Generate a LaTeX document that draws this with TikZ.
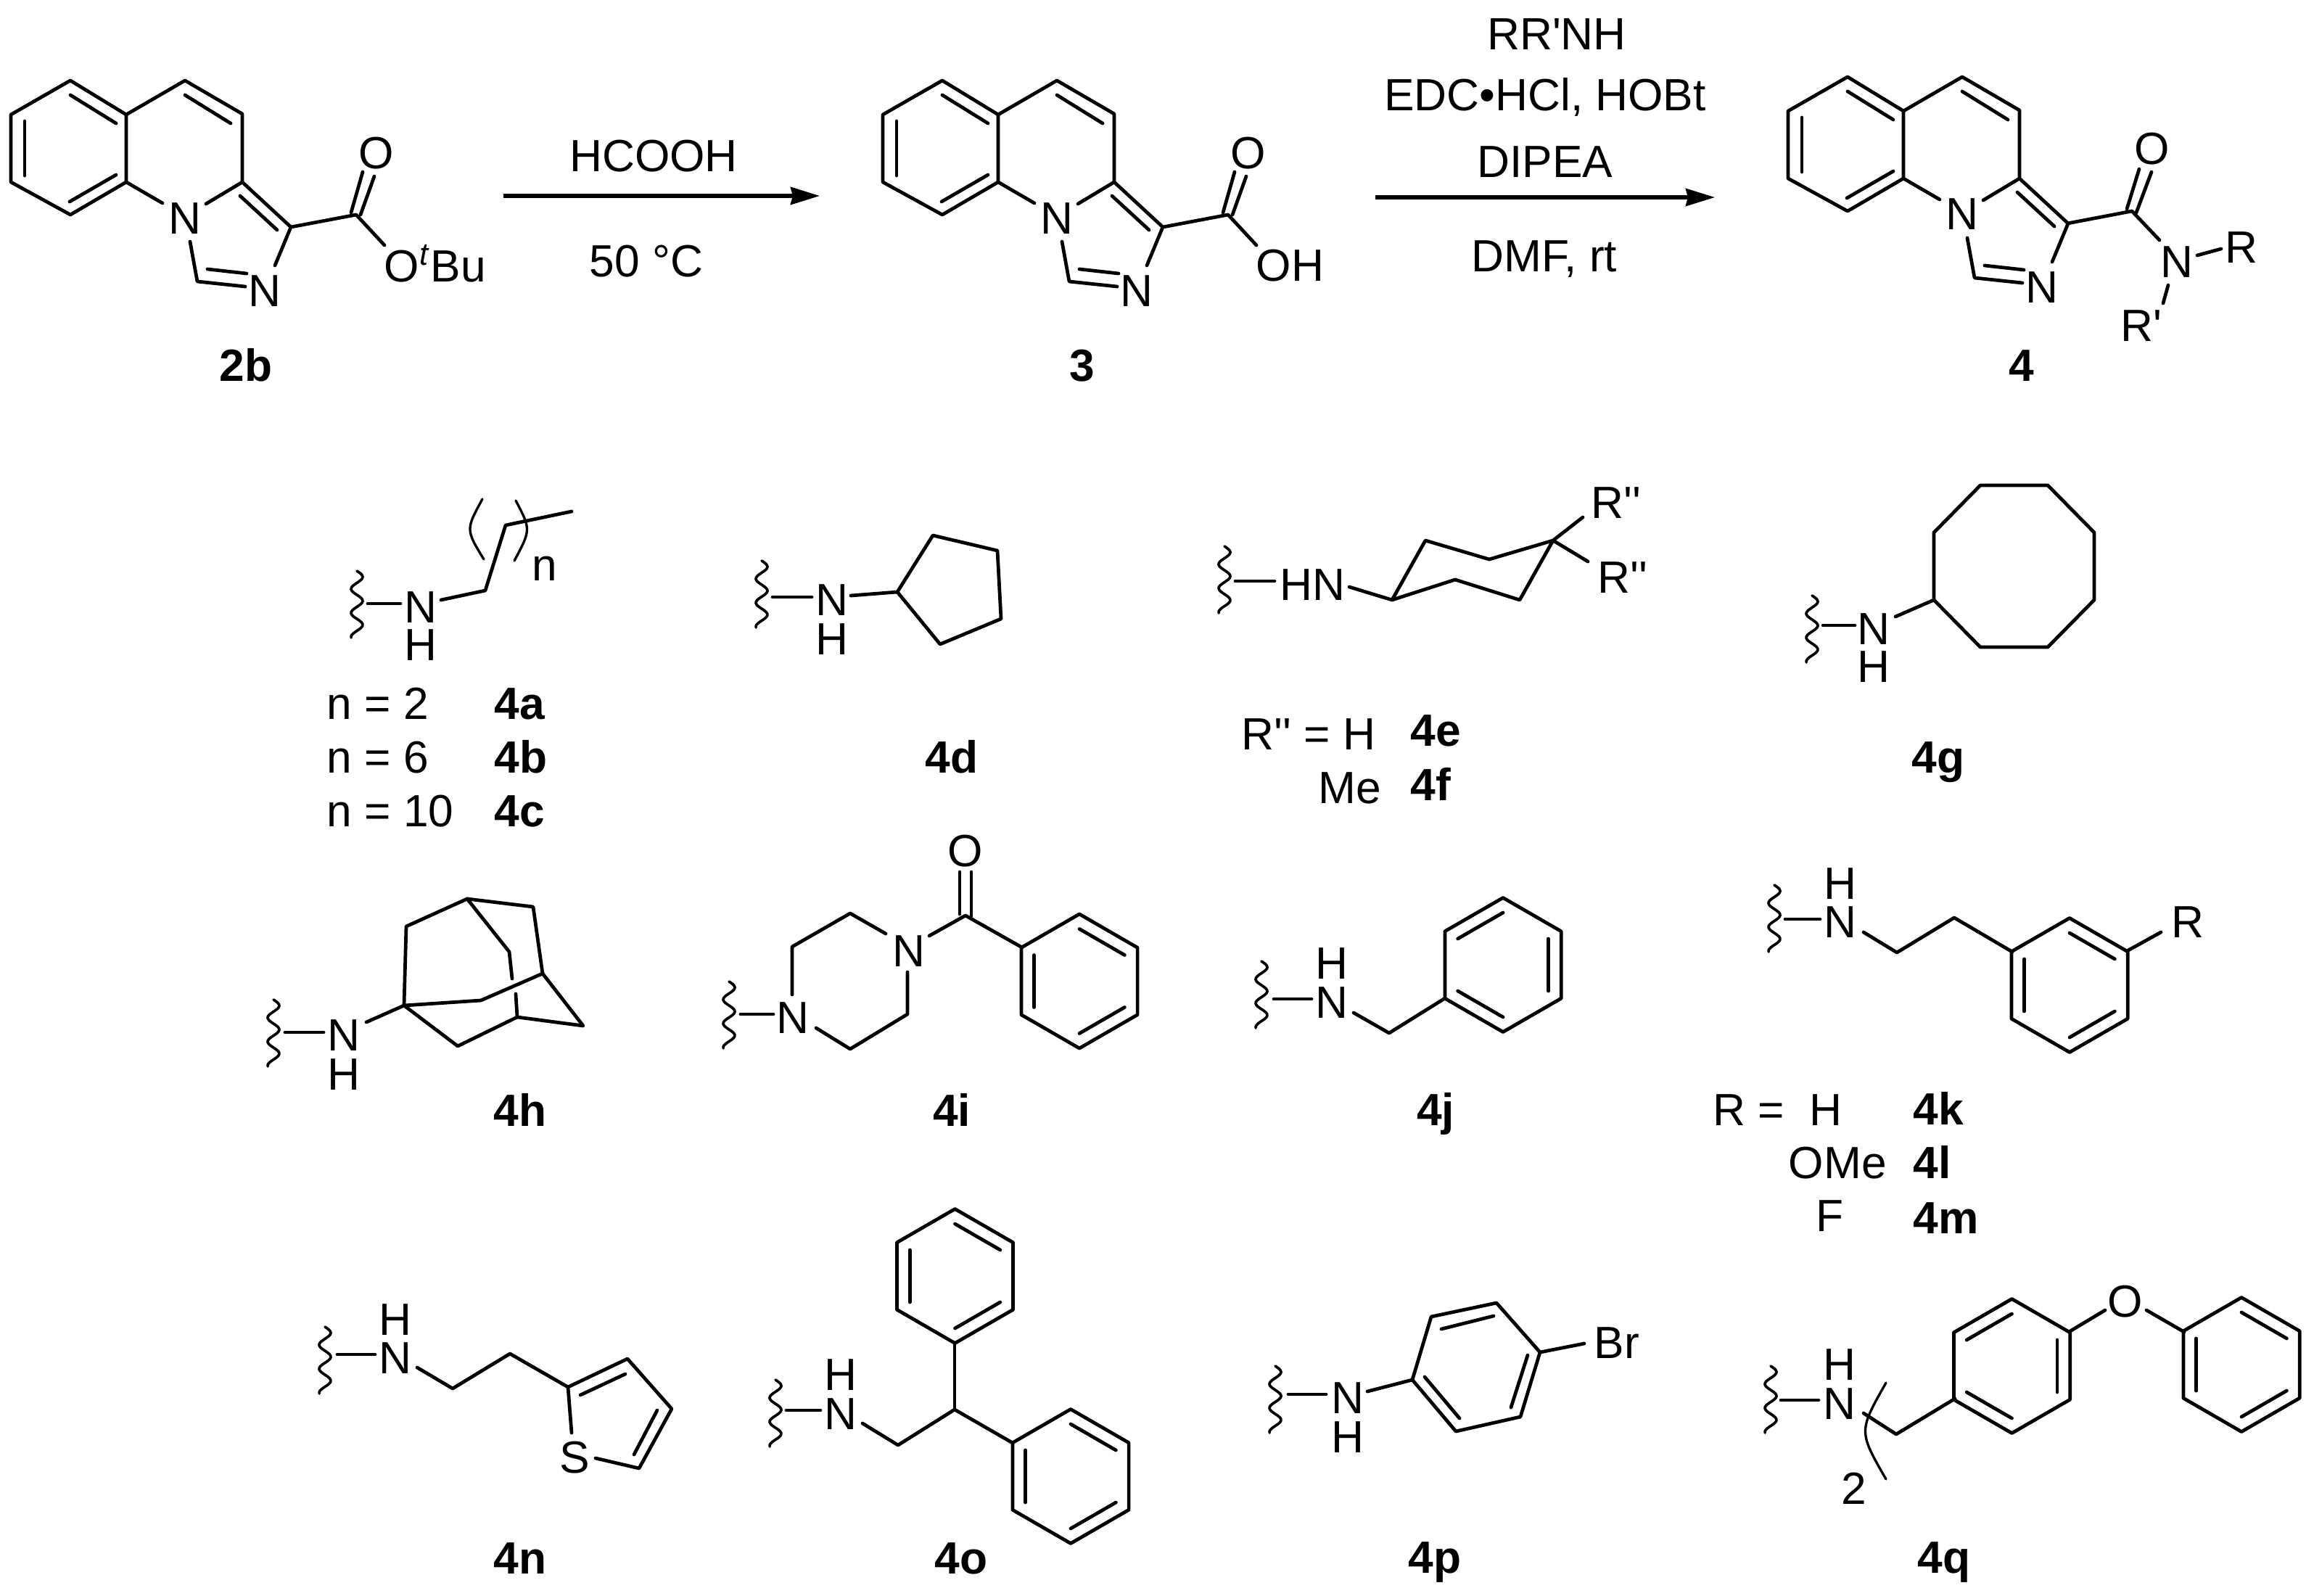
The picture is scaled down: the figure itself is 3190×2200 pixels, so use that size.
\documentclass[tikz,border=0pt]{standalone}
\usepackage{fontspec}
\usetikzlibrary{arrows.meta}
\newfontfamily\chemfont{Liberation Sans}
\newcommand{\chemsize}{\chemfont\fontsize{17.7}{20}\selectfont}
\tikzset{
  bond/.style={line width=1.35pt,line cap=round,line join=round},
  brack/.style={line width=.95pt,line cap=round},
  rxn/.style={line width=1.5pt,-{Stealth[length=.4cm,width=.24cm,inset=.03cm]}},
  squiggle/.style={line width=1.05pt,line cap=round},
  lab/.style={inner sep=0pt,anchor=base,font=\chemsize},
  labw/.style={lab,anchor=base west},
  cmpd/.style={lab,font=\chemsize\bfseries},
  cmpdw/.style={cmpd,anchor=base west},
}
% benzene ring: centre, angle of the first double bond
\newcommand{\phring}[2]{
  \begin{scope}[shift={(#1)}]
  \draw[bond] (30:92.5) -- (90:92.5) -- (150:92.5) -- (210:92.5) -- (270:92.5) -- (330:92.5) -- cycle;
  \foreach \a in {0,120,240} \draw[bond] (#2+\a:72) -- (#2+\a+60:72);
  \end{scope}
}
% wavy cut: top end, runs down
\newcommand{\cutline}[1]{
  \begin{scope}[shift={(#1)}]
  \draw[squiggle] plot[domain=0:92,samples=45,smooth] ({8*sin(\x*10.9)},\x);
  \end{scope}
}
% imidazoquinoline core: shift, prefix of the node names
\newcommand{\corering}[2]{
  \begin{scope}[shift={(#1)}]
  \draw[bond] (97,111) -- (15,158) -- (15,251) -- (97,296) -- (174,251) -- (174,158) -- cycle;
  \draw[bond] (97,131) -- (160,170);
  \draw[bond] (34,167) -- (34,242);
  \draw[bond] (96,278) -- (160,241);
  \draw[bond] (174,158) -- (255,111) -- (334,157) -- (334,251) -- (401,313);
  \draw[bond] (255,131) -- (318,170);
  \draw[bond] (331,270) -- (382,317);
  \draw[bond] (174,251) -- (224,280);
  \draw[bond] (334,251) -- (284,281);
  \draw[bond] (401,313) -- (379,366);
  \draw[bond] (262,333) -- (272,388) -- (338,395);
  \draw[bond] (286,371) -- (340,377);
  \node[lab] (#2Na) at (255,322) {N};
  \node[lab] (#2Nb) at (365,422) {N};
  \end{scope}
}
\begin{document}
\begin{tikzpicture}[x=.01cm,y=-.01cm]
\useasboundingbox (0,0) rectangle (3190,2200);

%% top row
% 2b
\corering{0,0}{two}
\draw[bond] (401,313) -- (491,296) -- (530,338);
\draw[bond] (484,293) -- (500,237);
\draw[bond] (497,296) -- (516,243);
\node[lab] (twoO) at (519,232) {O};
\node[labw] (twoOtBu) at (529,388) {O\textsuperscript{\textit{t}}Bu};
\node[cmpd] (cmp2b) at (339,525) {2b};

% first arrow
\coordinate (arAs) at (694,270);
\coordinate (arAe) at (1130,270);
\draw[rxn] (arAs) -- (arAe);
\node[lab] (hcooh) at (901,237) {HCOOH};
\node[lab] (temp) at (891,381) {50 °C};

% 3
\corering{1202,0}{three}
\draw[bond] (1603,313) -- (1693,296) -- (1732,338);
\draw[bond] (1686,293) -- (1702,237);
\draw[bond] (1699,296) -- (1718,243);
\node[lab] (threeO) at (1721,232) {O};
\node[labw] (threeOH) at (1731,387) {OH};
\node[cmpd] (cmp3) at (1492,525) {3};

% second arrow
\coordinate (arBs) at (1896,272);
\coordinate (arBe) at (2364,272);
\draw[rxn] (arBs) -- (arBe);
\node[lab] (amine) at (2146,69) {RR'NH};
\node[lab] (edc) at (2130,153) {EDC•HCl, HOBt};
\node[lab] (dipea) at (2130,245) {DIPEA};
\node[lab] (dmf) at (2129,374) {DMF, rt};

% 4
\corering{2450,-5}{four}
\draw[bond] (2850,308) -- (2939,291) -- (2977,331);
\draw[bond] (2932,288) -- (2949,233);
\draw[bond] (2945,293) -- (2966,237);
\node[lab] (fourO) at (2967,227) {O};
\node[lab] (fourN) at (3001,382) {N};
\draw[bond] (3029,352) -- (3062,343);
\draw[bond] (2989,393) -- (2982,418);
\node[lab] (fourR) at (3090,363) {R};
\node[lab] (fourRp) at (2952,470) {R'};
\node[cmpd] (cmp4) at (2787,525) {4};

%% second row
% 4a-c
\cutline{492,787}
\draw[bond] (507,832) -- (552,832);
\node[lab] (aN) at (580,858) {N};
\node[lab] (aH) at (580,910) {H};
\draw[bond] (608,827) -- (669,814) -- (697,724) -- (788,705);
\draw[brack] (665,688) .. controls (642,730) .. (667,771);
\draw[brack] (711,690) .. controls (732,730) .. (709,773);
\node[lab] (an) at (751,800) {n};
\node[labw] (an2) at (450,991) {n = 2};
\node[labw] (an6) at (450,1065) {n = 6};
\node[labw] (an10) at (450,1139) {n = 10};
\node[cmpdw] (cmp4a) at (681,991) {4a};
\node[cmpdw] (cmp4b) at (681,1065) {4b};
\node[cmpdw] (cmp4c) at (681,1139) {4c};

% 4d
\cutline{1050,773}
\draw[bond] (1065,823) -- (1119,823);
\node[lab] (dN) at (1147,848) {N};
\node[lab] (dH) at (1147,902) {H};
\draw[bond] (1173,821) -- (1237,816);
\draw[bond] (1237,816) -- (1286,738) -- (1375,759) -- (1380,853) -- (1296,888) -- cycle;
\node[cmpd] (cmp4d) at (1312,1065) {4d};

% 4e, 4f
\cutline{1688,753}
\draw[bond] (1703,801) -- (1757,801);
\node[labw] (eHN) at (1764,827) {HN};
\draw[bond] (1860,809) -- (1919,827);
\draw[bond] (1919,827) -- (1965,745) -- (2053,771) -- (2141,745) -- (2095,827) -- (2006,799) -- cycle;
\draw[bond] (2141,745) -- (2182,713);
\draw[bond] (2141,745) -- (2189,774);
\node[labw] (eRa) at (2193,714) {R''};
\node[labw] (eRb) at (2202,817) {R''};
\node[labw] (eRH) at (1711,1033) {R'' = H};
\node[labw] (eMe) at (1817,1107) {Me};
\node[cmpdw] (cmp4e) at (1944,1028) {4e};
\node[cmpdw] (cmp4f) at (1944,1103) {4f};

% 4g
\cutline{2498,821}
\draw[bond] (2513,862) -- (2557,862);
\node[lab] (gN) at (2583,888) {N};
\node[lab] (gH) at (2583,940) {H};
\draw[bond] (2613,850) -- (2666,827);
\draw[bond] (2666,734) -- (2730,669) -- (2823,669) -- (2887,734) -- (2887,827) -- (2823,892) -- (2730,892) -- (2666,827) -- cycle;
\node[cmpd] (cmp4g) at (2672,1065) {4g};

%% third row
% 4h
\cutline{377,1378}
\draw[bond] (393,1423) -- (446,1423);
\node[lab] (hN) at (474,1448) {N};
\node[lab] (hH) at (474,1502) {H};
\draw[bond] (505,1409) -- (557,1386);
\draw[bond] (557,1386) -- (560,1277) -- (644,1239) -- (735,1250) -- (748,1342) -- (663,1379) -- cycle;
\draw[bond] (557,1386) -- (631,1442) -- (713,1402) -- (804,1414) -- (748,1342);
\draw[bond] (644,1239) -- (702,1312) -- (706,1349);
\draw[bond] (711,1370) -- (713,1402);
\node[cmpd] (cmp4h) at (717,1552) {4h};

% 4i
\cutline{1005,1353}
\draw[bond] (1021,1398) -- (1066,1398);
\node[lab] (iNa) at (1093,1424) {N};
\draw[bond] (1092,1371) -- (1092,1305) -- (1172,1259) -- (1221,1287);
\node[lab] (iNb) at (1253,1332) {N};
\draw[bond] (1251,1340) -- (1251,1398) -- (1172,1446) -- (1125,1417);
\draw[bond] (1281,1290) -- (1331,1262) -- (1409,1306);
\draw[bond] (1323,1260) -- (1323,1202);
\draw[bond] (1339,1263) -- (1339,1202);
\node[lab] (iO) at (1331,1194) {O};
\phring{1488,1352.5}{30}
\node[cmpd] (cmp4i) at (1312,1552) {4i};

% 4j
\cutline{1739,1325}
\draw[bond] (1756,1377) -- (1808,1377);
\node[lab] (jN) at (1836,1403) {N};
\node[lab] (jH) at (1836,1349) {H};
\draw[bond] (1866,1396) -- (1915,1424) -- (1992,1376);
\phring{2072,1330}{90}
\node[cmpd] (cmp4j) at (1979,1551) {4j};

% 4k-m
\cutline{2446,1220}
\draw[bond] (2461,1267) -- (2509,1267);
\node[lab] (kN) at (2537,1292) {N};
\node[lab] (kH) at (2537,1239) {H};
\draw[bond] (2569,1285) -- (2615,1313) -- (2694,1265) -- (2774,1312);
\phring{2853,1358}{30}
\draw[bond] (2932,1311) -- (2979,1285);
\node[labw] (kR) at (2993,1292) {R};
\node[labw] (kRH) at (2361,1551) {R = ~H};
\node[labw] (kOMe) at (2465,1624) {OMe};
\node[labw] (kF) at (2503,1697) {F};
\node[cmpdw] (cmp4k) at (2637,1550) {4k};
\node[cmpdw] (cmp4l) at (2637,1624) {4l};
\node[cmpdw] (cmp4m) at (2637,1700) {4m};

%% bottom row
% 4n
\cutline{448,1829}
\draw[bond] (465,1867) -- (517,1867);
\node[lab] (nN) at (545,1893) {N};
\node[lab] (nH) at (545,1840) {H};
\draw[bond] (575,1885) -- (624,1914) -- (703,1866) -- (783,1912);
\draw[bond] (783,1912) -- (865,1873) -- (926,1942) -- (881,2024) -- (821,2010);
\draw[bond] (783,1912) -- (788,1975);
\draw[bond] (800,1923) -- (862,1894);
\draw[bond] (906,1944) -- (874,2005);
\node[lab] (nS) at (792,2030) {S};
\node[cmpd] (cmp4n) at (717,2169) {4n};

% 4o
\cutline{1069,1902}
\draw[bond] (1084,1944) -- (1131,1944);
\node[lab] (oN) at (1159,1970) {N};
\node[lab] (oH) at (1159,1916) {H};
\draw[bond] (1189,1962) -- (1238,1992) -- (1316,1943) -- (1396,1989);
\draw[bond] (1316,1943) -- (1316,1852);
\phring{1316.5,1759}{30}
\phring{1476,2035}{30}
\node[cmpd] (cmp4o) at (1325,2169) {4o};

% 4p
\cutline{1758,1883}
\draw[bond] (1776,1922) -- (1828,1922);
\node[lab] (pN) at (1858,1948) {N};
\node[lab] (pH) at (1858,2002) {H};
\draw[bond] (1885,1918) -- (1947,1902);
\draw[bond] (1947,1902) -- (1973,1815) -- (2063,1796) -- (2123,1864) -- (2096,1953) -- (2007,1973) -- cycle;
\draw[bond] (1987,1832) -- (2059,1814);
\draw[bond] (2106,1868) -- (2083,1940);
\draw[bond] (1964,1898) -- (2012,1955);
\draw[bond] (2123,1864) -- (2184,1852);
\node[labw] (pBr) at (2197,1872) {Br};
\node[cmpd] (cmp4p) at (1978,2168) {4p};

% 4q
\cutline{2441,1883}
\draw[bond] (2455,1930) -- (2507,1930);
\node[lab] (qN) at (2536,1956) {N};
\node[lab] (qH) at (2536,1902) {H};
\draw[bond] (2569,1948) -- (2614,1977) -- (2695,1928);
\draw[brack] (2600,1906) .. controls (2562,1973) .. (2600,2039);
\node[lab] (qtwo) at (2556,2073) {2};
\phring{2773.5,1883}{90}
\draw[bond] (2852,1836) -- (2902,1806);
\node[lab] (qO) at (2930,1815) {O};
\draw[bond] (2959,1806) -- (3011,1836);
\phring{3090,1881}{30}
\node[cmpd] (cmp4q) at (2680,2168) {4q};

\end{tikzpicture}
\end{document}
